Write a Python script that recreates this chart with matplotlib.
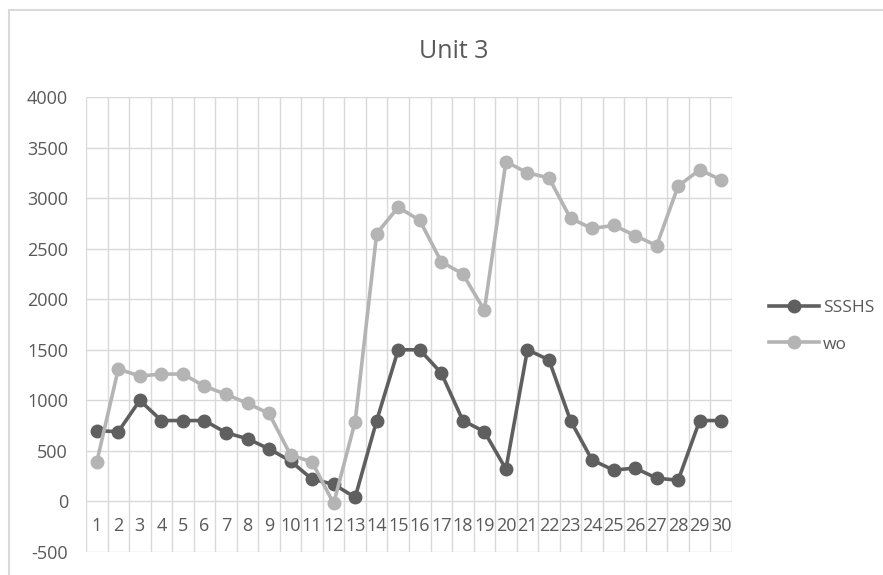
import matplotlib
matplotlib.use('Agg')
import matplotlib.pyplot as plt
from matplotlib.patches import Rectangle

plt.rcParams['font.family'] = ['Open Sans', 'DejaVu Sans']
plt.rcParams['axes.unicode_minus'] = False

# chart data
units = list(range(1, 31))
ssshs = [700, 690, 1000, 800, 800, 800, 680, 620, 520, 400,
         220, 170, 40, 800, 1500, 1500, 1270, 800, 690, 320,
         1500, 1400, 800, 410, 310, 330, 230, 210, 800, 800]
wo = [390, 1310, 1240, 1260, 1260, 1140, 1060, 970, 870, 460,
      390, -20, 790, 2650, 2910, 2780, 2370, 2250, 1890, 3360,
      3250, 3200, 2800, 2700, 2730, 2630, 2530, 3120, 3280, 3180]
y_ticks = list(range(-500, 4001, 500))

text_col = '#595959'
grid_col = '#d9d9d9'
dark = '#5f5f5f'
light = '#b4b4b4'

fig = plt.figure(figsize=(8.83, 5.75), dpi=100)
ax = fig.add_axes([86 / 883, 1 - 552 / 575, (732 - 86) / 883, (552 - 97) / 575])

# outer chart border
fig.patches.append(Rectangle((9 / 883, -0.1), 1.2, 1 - 10 / 575 + 0.1,
                             transform=fig.transFigure, fill=False,
                             edgecolor=grid_col, linewidth=1.5))

ax.plot(units, ssshs, color=dark, lw=2.6, marker='o', ms=9, label='SSSHS', zorder=3)
ax.plot(units, wo, color=light, lw=2.6, marker='o', ms=9, label='wo', zorder=3)

ax.set_xlim(0.5, 30.5)
ax.set_ylim(-500, 4000)
ax.set_yticks(y_ticks)
ax.set_xticks(units)
ax.set_xticks([u + 0.5 for u in [0] + units], minor=True)
ax.grid(axis='y', which='major', color=grid_col, lw=1.0)
ax.grid(axis='x', which='minor', color=grid_col, lw=1.0)
ax.set_axisbelow(True)

for s in ax.spines.values():
    s.set_visible(False)
ax.spines['bottom'].set_position(('data', 0))
ax.tick_params(axis='both', which='both', length=0, colors=text_col, labelsize=13)
ax.tick_params(axis='x', pad=11)
ax.tick_params(axis='y', pad=13)

fig.text(454 / 883, 1 - 52 / 575, 'Unit 3', ha='center', va='center',
         fontsize=18, color=text_col)

leg = fig.legend(loc='center left', bbox_to_anchor=(762 / 883, 1 - 326 / 575),
                 frameon=False, fontsize=12.5, handlelength=2.9,
                 handletextpad=0.2, labelspacing=1.2, borderaxespad=0)
for t in leg.get_texts():
    t.set_color(text_col)

fig.savefig('out.png', dpi=100)
